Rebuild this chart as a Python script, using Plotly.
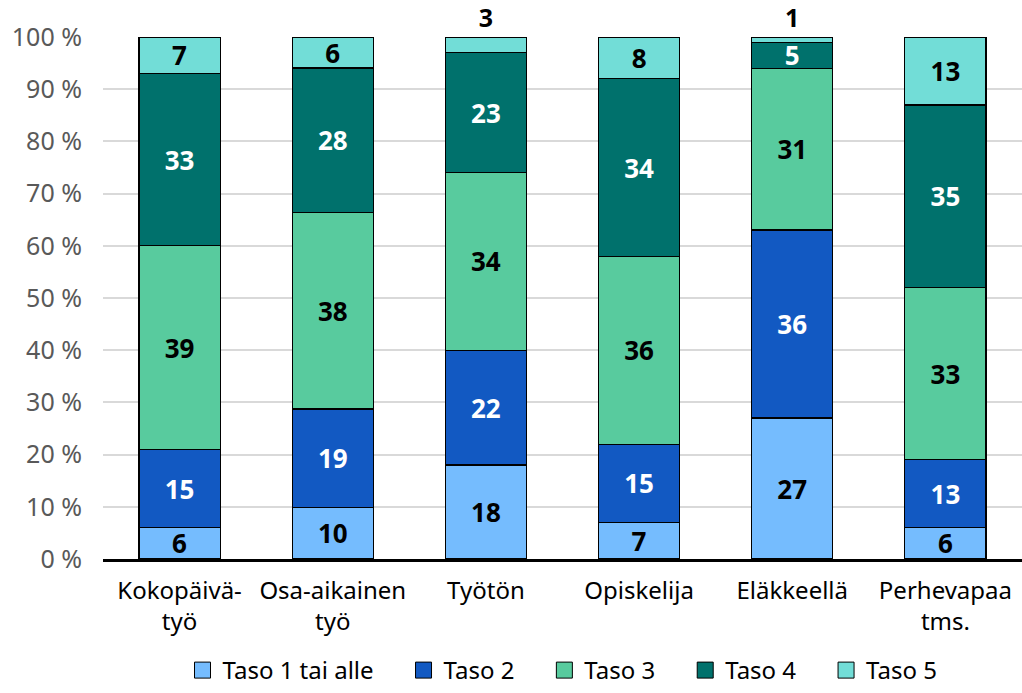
import plotly.graph_objects as go

categories = ["Kokopäivä-<br>työ", "Osa-aikainen<br>työ", "Työtön", "Opiskelija", "Eläkkeellä", "Perhevapaa<br>tms."]
series_names = ["Taso 1 tai alle", "Taso 2", "Taso 3", "Taso 4", "Taso 5"]
taso1 = [6, 10, 18, 7, 27, 6]
taso2 = [15, 19, 22, 15, 36, 13]
taso3 = [39, 38, 34, 36, 31, 33]
taso4 = [33, 28, 23, 34, 5, 35]
taso5 = [7, 6, 3, 8, 1, 13]
y_ticks = list(range(0, 101, 10))
y_tick_labels = [f"{v} %" for v in y_ticks]

colors = ["#75BCFE", "#1259C2", "#58CB9E", "#00716C", "#72DDD7"]
text_colors = ["black", "white", "black", "white", "black"]
all_series = [taso1, taso2, taso3, taso4, taso5]

FONT = "Noto Sans"
fig = go.Figure()
for i, (name, vals, col, tcol) in enumerate(zip(series_names, all_series, colors, text_colors)):
    if name == "Taso 5":
        tpos = ["outside" if v < 4 else "inside" for v in vals]
    else:
        tpos = "inside"
    fig.add_trace(go.Bar(
        x=categories, y=vals, name=name, showlegend=False,
        marker=dict(color=col, line=dict(color="black", width=1.3)),
        text=[str(v) for v in vals], textposition=tpos, textangle=0,
        insidetextanchor="middle",
        textfont=dict(family=FONT, size=26, color=tcol, weight="bold"),
        outsidetextfont=dict(family=FONT, size=25, color="black", weight="bold"),
        constraintext="none", cliponaxis=False,
        width=0.53,
    ))

# legend entries with larger square swatches
for i, (name, col) in enumerate(zip(series_names, colors)):
    legend_name = name + ("    " if i < len(series_names) - 1 else "")
    fig.add_trace(go.Scatter(
        x=[categories[0]], y=[None], mode="markers", name=legend_name,
        marker=dict(symbol="square", size=20, color=col, line=dict(color="black", width=1)),
        hoverinfo="skip",
    ))

fig.update_layout(
    barmode="stack", barnorm="percent",
    width=1022, height=693,
    margin=dict(l=103, r=0, t=37, b=134),
    plot_bgcolor="white", paper_bgcolor="white",
    font=dict(family=FONT, size=22, color="black"),
    showlegend=True,
    legend=dict(orientation="h", x=0.5, xanchor="center", xref="paper",
                y=-0.016, yanchor="bottom", yref="container",
                font=dict(family=FONT, size=24, color="black"), traceorder="normal",
                itemsizing="trace", itemwidth=30),
    xaxis=dict(showline=True, linecolor="black", linewidth=3, ticks="",
               ticklabelstandoff=8,
               tickfont=dict(family=FONT, size=24, color="black")),
    yaxis=dict(range=[0, 100], tickvals=y_ticks, ticktext=y_tick_labels,
               showgrid=True, gridcolor="#D9D9D9", gridwidth=2, zeroline=False,
               ticklabelstandoff=20,
               tickfont=dict(family=FONT, size=25, color="#595959")),
)
fig.write_html("out.html", config={"displayModeBar": False},
               post_script="document.body.style.margin='0';")
